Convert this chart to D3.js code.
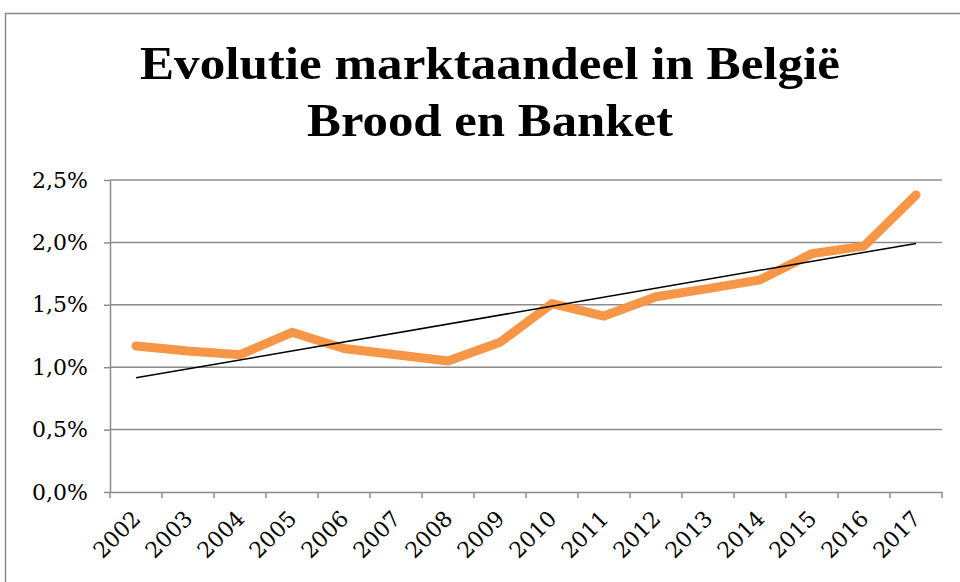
<!DOCTYPE html>
<html>
<head>
<meta charset="utf-8">
<script src="https://cdn.jsdelivr.net/npm/d3@7"></script>
<style>
  html, body { margin: 0; padding: 0; background: #fff; }
  svg { display: block; }
</style>
</head>
<body>
<svg id="chart" width="960" height="582"></svg>
<script>
// ---- data ----
const titleLines = ["Evolutie marktaandeel in België", "Brood en Banket"];
const years = ["2002","2003","2004","2005","2006","2007","2008","2009","2010","2011","2012","2013","2014","2015","2016","2017"];
const share = [1.17, 1.13, 1.10, 1.28, 1.15, 1.10, 1.05, 1.20, 1.51, 1.41, 1.565, 1.63, 1.70, 1.91, 1.97, 2.38];
const yTicks = [0, 0.5, 1.0, 1.5, 2.0, 2.5];

// ---- layout ----
const svg = d3.select("#chart");
const plot = { left: 110, right: 942, top: 180, bottom: 492 };

// chart border
svg.append("rect")
  .attr("x", 5.5).attr("y", 13.5)
  .attr("width", 1000).attr("height", 700)
  .attr("fill", "#fff").attr("stroke", "#8a8a8a").attr("stroke-width", 1.5);

// title
const titleWidths = [700, 366];
const titleY = [79, 136];
titleLines.forEach((t, i) => {
  svg.append("text")
    .attr("x", 490).attr("y", titleY[i])
    .attr("text-anchor", "middle")
    .attr("font-family", "Liberation Serif, DejaVu Serif, serif")
    .attr("font-weight", "bold")
    .attr("font-size", 46)
    .attr("textLength", titleWidths[i])
    .attr("lengthAdjust", "spacingAndGlyphs")
    .attr("fill", "#000")
    .text(t);
});

// scales
const x = d3.scaleBand().domain(years).range([plot.left, plot.right]).padding(0);
const y = d3.scaleLinear().domain([0, 2.5]).range([plot.bottom, plot.top]);
const cx = d => x(d) + x.bandwidth() / 2;

// gridlines
svg.append("g").selectAll("line").data(yTicks.filter(v => v > 0)).join("line")
  .attr("x1", plot.left).attr("x2", plot.right)
  .attr("y1", d => y(d)).attr("y2", d => y(d))
  .attr("stroke", "#8c8c8c").attr("stroke-width", 1.5);

// y axis
const fmt = v => v.toFixed(1).replace(".", ",") + "%";
const yAxis = svg.append("g").attr("transform", `translate(${plot.left},0)`)
  .call(d3.axisLeft(y).tickValues(yTicks).tickSize(6).tickSizeOuter(0).tickPadding(16).tickFormat(fmt));
yAxis.select(".domain").attr("stroke", "#8c8c8c").attr("stroke-width", 1.5);
yAxis.selectAll(".tick line").attr("stroke", "#8c8c8c").attr("stroke-width", 1.5);
yAxis.selectAll(".tick text")
  .attr("font-family", "DejaVu Serif, serif").attr("font-size", 22).attr("fill", "#000");

// x axis
const xAxis = svg.append("g").attr("transform", `translate(0,${plot.bottom})`)
  .call(d3.axisBottom(x).tickSize(0).tickFormat(""));
xAxis.select(".domain").attr("stroke", "#8c8c8c").attr("stroke-width", 1.5);
xAxis.selectAll(".tick").remove();
const bounds = years.map(d => x(d)).concat([plot.right]);
svg.append("g").selectAll("line").data(bounds).join("line")
  .attr("x1", d => d).attr("x2", d => d)
  .attr("y1", plot.bottom).attr("y2", plot.bottom + 6)
  .attr("stroke", "#8c8c8c").attr("stroke-width", 1.5);

svg.append("g").selectAll("text").data(years).join("text")
  .attr("transform", d => `translate(${cx(d) + 6},${plot.bottom + 28}) rotate(-45)`)
  .attr("text-anchor", "end")
  .attr("font-family", "DejaVu Serif, serif").attr("font-size", 22).attr("fill", "#000")
  .text(d => d);

// series line
const line = d3.line().x((d, i) => cx(years[i])).y(d => y(d));
svg.append("path").datum(share)
  .attr("d", line)
  .attr("fill", "none").attr("stroke", "#F79646").attr("stroke-width", 9)
  .attr("stroke-linecap", "round").attr("stroke-linejoin", "round");

// linear trendline (least squares on the series)
const n = share.length;
const idx = d3.range(n);
const mx = d3.mean(idx), my = d3.mean(share);
const slope = d3.sum(idx, i => (i - mx) * (share[i] - my)) / d3.sum(idx, i => (i - mx) ** 2);
const icpt = my - slope * mx;
const trend = [icpt, icpt + slope * (n - 1)];
svg.append("line")
  .attr("x1", cx(years[0])).attr("y1", y(trend[0]))
  .attr("x2", cx(years[n - 1])).attr("y2", y(trend[1]))
  .attr("stroke", "#000").attr("stroke-width", 1.5);
</script>
</body>
</html>
